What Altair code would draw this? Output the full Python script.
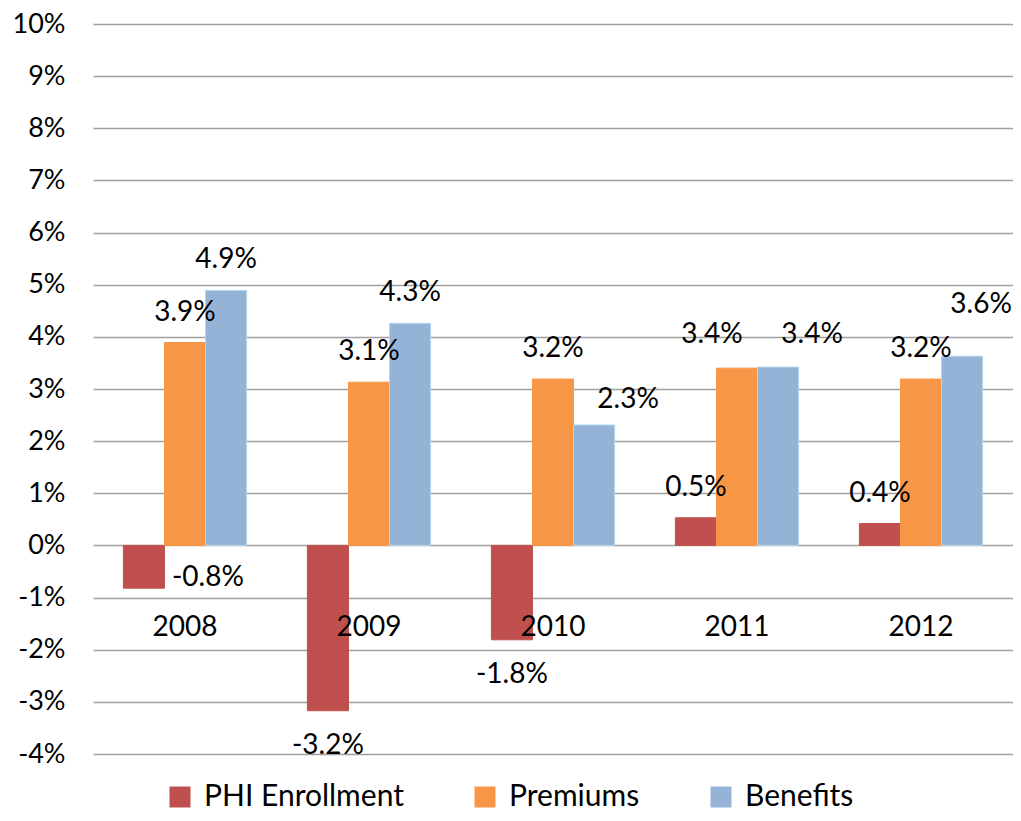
import altair as alt
import pandas as pd

years = ["2008", "2009", "2010", "2011", "2012"]
series_names = ["PHI Enrollment", "Premiums", "Benefits"]
phi_enrollment = [-0.82, -3.17, -1.81, 0.53, 0.42]
premiums = [3.89, 3.13, 3.19, 3.40, 3.19]
benefits = [4.89, 4.26, 2.31, 3.42, 3.63]
y_ticks = list(range(-4, 11))

rows = []
for s, vals in zip(series_names, [phi_enrollment, premiums, benefits]):
    for yr, v in zip(years, vals):
        rows.append({"year": yr, "series": s, "value": v, "label": f"{v:.1f}%"})
df = pd.DataFrame(rows)

colors = ["#C0504D", "#F79646", "#95B3D7"]
strokes = ["#C0504D", "#F79646", "#B4D9EC"]
FONT = "Lato"
W, H = 920, 730

# label nudges (Excel-like manual placement): (year, series, dx, dy)
nudges = [
    ("2008", "PHI Enrollment", 64, -10),
    ("2010", "Benefits", 34, -25),
    ("2011", "Premiums", -25, -33),
    ("2011", "Benefits", 34, -32),
    ("2012", "Benefits", 19, -51),
]

x_enc = alt.X(
    "year:N", sort=years,
    scale=alt.Scale(paddingInner=0.33, paddingOuter=0.165),
    axis=alt.Axis(title=None, orient="bottom", domain=False, ticks=False,
                  labelPadding=0, offset=-141, labelFontSize=28, labelFont=FONT,
                  labelColor="#000000", labelAngle=0, grid=False, zindex=1),
)
xo_enc = alt.XOffset("series:N", sort=series_names,
                     scale=alt.Scale(paddingInner=0, paddingOuter=0))
y_enc = alt.Y(
    "value:Q",
    scale=alt.Scale(domain=[-4, 10], nice=False, zero=False),
    axis=alt.Axis(title=None, values=y_ticks, labelExpr="datum.value + '%'",
                  grid=True, gridColor="#A0A0A0", gridWidth=1.3, domain=False,
                  ticks=False, labelPadding=28, labelFontSize=27, labelFont=FONT,
                  labelColor="#000000", labelBaseline="middle"),
)

base = alt.Chart(df)

bars = base.mark_bar(strokeWidth=1).encode(
    x=x_enc, xOffset=xo_enc, y=y_enc, y2=alt.datum(0),
    color=alt.Color("series:N", sort=series_names,
                    scale=alt.Scale(domain=series_names, range=colors),
                    legend=alt.Legend(title=None, orient="none", direction="horizontal",
                                      legendX=72, legendY=758, symbolType="square",
                                      symbolSize=441, symbolStrokeWidth=0,
                                      labelFontSize=30, labelFont=FONT,
                                      labelColor="#000000", labelOffset=9,
                                      labelLimit=500, columnPadding=66)),
    stroke=alt.Stroke("series:N", scale=alt.Scale(domain=series_names, range=strokes),
                      legend=None),
)

special_expr = " || ".join(
    f"(datum.year == '{yr}' && datum.series == '{s}')" for yr, s, _, _ in nudges
)

text_common = dict(x=alt.X("year:N", sort=years), xOffset=alt.XOffset("series:N", sort=series_names),
                   y=alt.Y("value:Q"), text="label:N")

pos_labels = base.transform_filter(f"datum.value >= 0 && !({special_expr})").mark_text(
    baseline="middle", align="center", dy=-30, fontSize=28, font=FONT, color="#000000"
).encode(**text_common)

neg_labels = base.transform_filter(f"datum.value < 0 && !({special_expr})").mark_text(
    baseline="middle", align="center", dy=35, fontSize=28, font=FONT, color="#000000"
).encode(**text_common)

layers = [bars, pos_labels, neg_labels]
for yr, s, dx, dy in nudges:
    layers.append(
        base.transform_filter(f"datum.year == '{yr}' && datum.series == '{s}'").mark_text(
            baseline="middle", align="center", dx=dx, dy=dy, fontSize=28, font=FONT,
            color="#000000"
        ).encode(**text_common)
    )

chart = alt.layer(*layers).properties(
    width=W, height=H,
    autosize=alt.AutoSizeParams(type="none"),
    padding={"left": 85, "top": 16, "right": 0, "bottom": 59},
    background="white",
).configure_view(stroke=None)

chart.save("out.html", embed_options={"renderer": "svg", "actions": False})
